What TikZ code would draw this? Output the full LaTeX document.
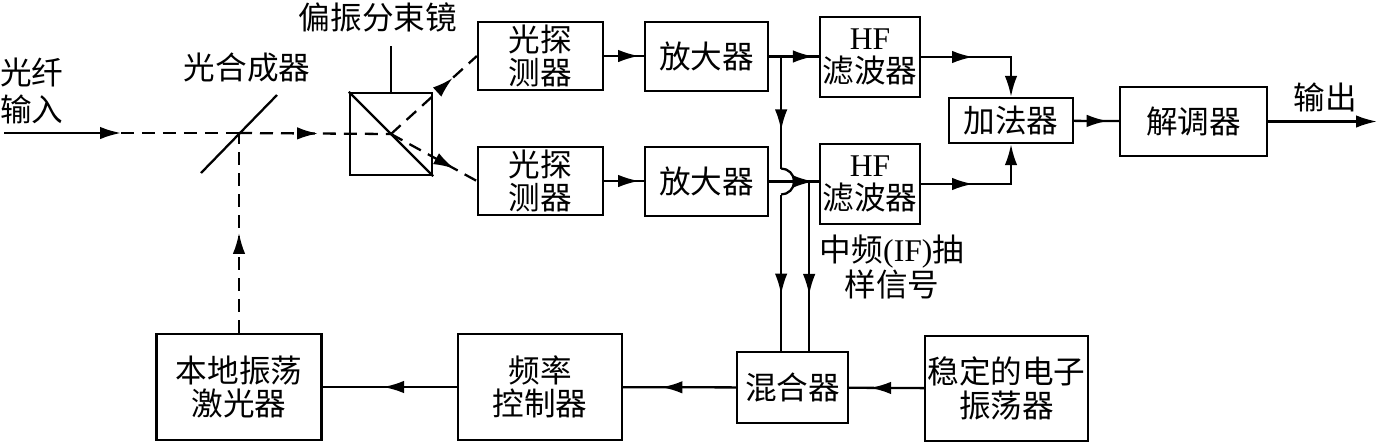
\documentclass[tikz,border=0pt]{standalone}
\usepackage{fontspec}
\setmainfont{Liberation Serif}
\newfontfamily\cjk{Noto Sans CJK SC}
\usetikzlibrary{arrows.meta,decorations.markings}

\tikzset{
    kasten/.style={draw, line width=1.3pt, align=center, inner sep=0pt,
        font=\cjk\fontsize{18}{19}\selectfont},
    beschr/.style={align=center, inner sep=0pt, font=\cjk\fontsize{18}{19}\selectfont},
    linie/.style={line width=1.3pt},
    strich/.style={linie, dash pattern=on 2.6mm off 1.6mm},
    % Pfeilspitze irgendwo mitten auf der Linie (Position als Bruchteil):
    spitze/.style={postaction={decorate},
        decoration={markings, mark=at position #1 with {\arrow{>}}}},
    >={Latex[length=4.2mm,width=2.5mm]}
}

\begin{document}
\begin{tikzpicture}[x=0.02cm, y=-0.02cm]
    % Koordinaten sind Pixel des Originals (y zeigt nach unten):
    \useasboundingbox (0,0) rectangle (1378,444);

    % obere Reihe: Detektoren, Verstaerker, Filter
    \node[kasten, minimum width=2.5cm, minimum height=1.36cm] (det1) at (540.5,56) {光探\\测器};
    \node[kasten, minimum width=2.5cm, minimum height=1.36cm] (det2) at (540.5,181) {光探\\测器};
    \node[kasten, minimum width=2.46cm, minimum height=1.38cm] (amp1) at (706.5,56.5) {放大器};
    \node[kasten, minimum width=2.46cm, minimum height=1.38cm] (amp2) at (706.5,181.5) {放大器};
    \node[kasten, minimum width=2cm, minimum height=1.6cm] (hf1) at (870,57) {{\rmfamily HF}\\滤波器};
    \node[kasten, minimum width=2cm, minimum height=1.6cm] (hf2) at (870,184) {{\rmfamily HF}\\滤波器};
    \node[kasten, minimum width=2.48cm, minimum height=0.9cm] (add) at (1011,120.5) {加法器};
    \node[kasten, minimum width=2.94cm, minimum height=1.38cm] (demod) at (1193.5,121.5) {解调器};

    % untere Reihe
    \node[kasten, minimum width=3.3cm, minimum height=2.12cm] (lo) at (239,387) {本地振荡\\激光器};
    \node[kasten, minimum width=3.28cm, minimum height=2.12cm] (freq) at (540,387) {频率\\控制器};
    \node[kasten, minimum width=2.22cm, minimum height=1.42cm] (mix) at (792.5,387.5) {混合器};
    \node[kasten, minimum width=3.26cm, minimum height=2.1cm] (osc) at (1006.5,388.5) {稳定的电子\\振荡器};

    % Polarisationsstrahlteiler: Quadrat mit Diagonale und Zeiger zur Beschriftung
    \node[draw, linie, minimum size=1.64cm] (pbs) at (391,134) {};
    \draw[linie] (pbs.north west) -- (pbs.south east);
    \draw[linie] (pbs.north) -- ++(0,-46);
    \node[beschr] (pbslabel) at (378,17) {偏振分束镜};

    % Strahlvereiniger (nur ein schraeger Strich)
    \coordinate (komb) at (239,133);
    \draw[linie] (komb) ++(-38,40) -- ++(76,-78);
    \node[beschr] (komblabel) at (247,68) {光合成器};

    % Eingang
    \coordinate (ein) at (4,133);
    \coordinate (e1) at (121,133);
    \node[beschr, align=left, anchor=west, font=\cjk\fontsize{18}{21.5}\selectfont]
        (einlabel) at (0,91) {光纤\\输入};
    \draw[linie, ->] (ein) -- (e1);
    \draw[strich] (e1) -- (komb);

    % optischer Teil (gestrichelt)
    \draw[strich, spitze=0.52] (komb) -- (pbs.center);
    \draw[strich, spitze=0.72] (pbs.center) -- (det1.west);
    \draw[strich, spitze=0.74] (pbs.center) -- (det2.west);
    \draw[strich, spitze=0.5] (lo) -- (komb);

    % Detektoren -> Verstaerker -> Filter
    \draw[linie, spitze=0.88] (det1.east) -- (det1.east -| amp1.west);
    \draw[linie, spitze=0.88] (det2.east) -- (det2.east -| amp2.west);
    \draw[linie, spitze=0.9] (amp1.east) -- (amp1.east -| hf1.west);
    \draw[linie, spitze=0.9] (amp2.east) -- (amp2.east -| hf2.west);

    % Abzweige zum Mischer; der linke springt mit einem Halbkreis ueber die untere Leitung
    \path (amp1.east) ++(12,0) coordinate (abz1);
    \path (amp2.east) ++(40,0) coordinate (abz2);
    \path (amp2.east) ++(12,0) coordinate (bogen);
    \path (bogen) ++(0,-13) coordinate (bogeno);
    \path (bogen) ++(0,13) coordinate (bogenu);
    \draw[linie, spitze=0.66] (abz1) -- (bogeno);
    \draw[linie] (bogeno) arc[start angle=90, end angle=-90, radius=0.26cm];
    \draw[linie, spitze=0.64] (bogenu) -- (bogenu |- mix.north);
    \draw[linie, spitze=0.67] (abz2) -- (abz2 |- mix.north);
    \node[beschr] (iflabel) at (892,267) {中频{\rmfamily(IF)}抽\\样信号};

    % Filter -> Addierer -> Demodulator -> Ausgang
    \draw[linie, spitze=0.4, ->] (hf1.east) -| (add.north);
    \draw[linie, spitze=0.4, ->] (hf2.east) -| (add.south);
    \draw[linie, spitze=0.75] (add) -- (demod);
    \coordinate (aus) at (1377,121.5);
    \draw[linie, ->] (demod.east) -- (aus);
    \node[beschr] (auslabel) at (1325,97) {输出};

    % Regelschleife unten
    \draw[linie, spitze=0.72] (osc) -- (mix);
    \draw[linie, spitze=0.66] (mix) -- (freq);
    \draw[linie, spitze=0.55] (freq) -- (lo);
\end{tikzpicture}
\end{document}
